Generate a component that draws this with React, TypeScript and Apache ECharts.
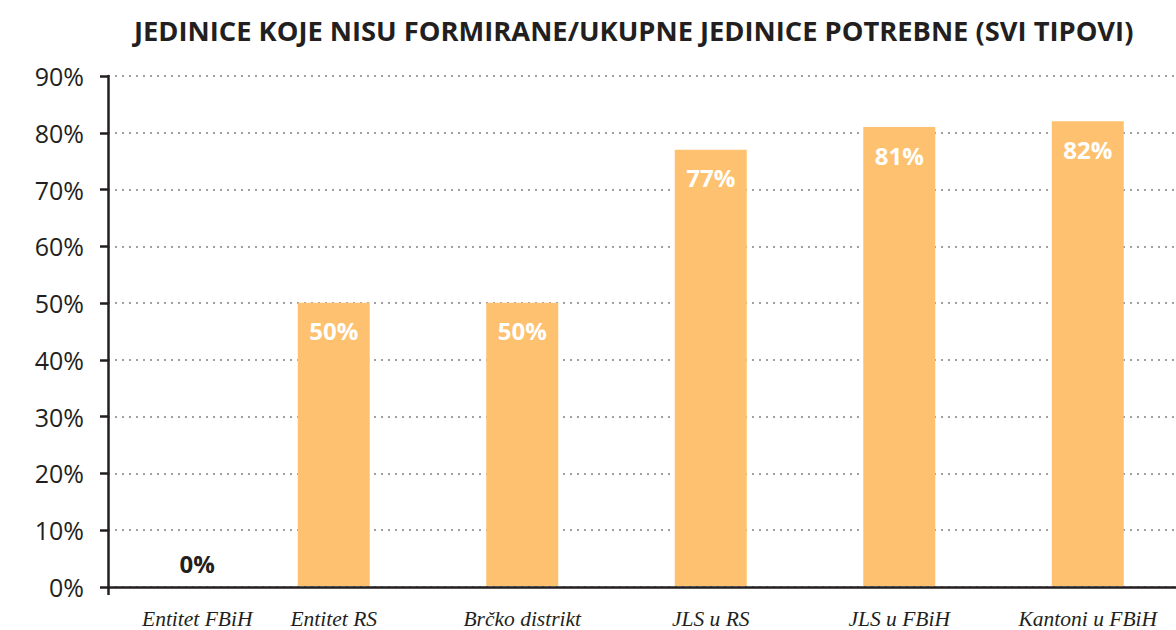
import React, { useEffect, useRef } from "react";
import * as echarts from "echarts";

const TITLE = "JEDINICE KOJE NISU FORMIRANE/UKUPNE JEDINICE POTREBNE (SVI TIPOVI)";
const categories = ["Entitet FBiH", "Entitet RS", "Brčko distrikt", "JLS u RS", "JLS u FBiH", "Kantoni u FBiH"];
const values = [0, 50, 50, 77, 81, 82];
const yTicks = { min: 0, max: 90, interval: 10 };

const DARK = "#231f20";
const BAR = "#FDC16F";

export default function App() {
  const ref = useRef<HTMLDivElement>(null);
  useEffect(() => {
    if (!ref.current) return;
    const chart = echarts.init(ref.current, undefined, { renderer: "svg" });
    chart.setOption({
      animation: false,
      backgroundColor: "#ffffff",
      title: {
        text: TITLE,
        left: 129,
        top: 12,
        textStyle: {
          fontFamily: "Open Sans",
          fontWeight: "bold",
          fontSize: 27.3,
          color: DARK,
        },
      },
      grid: [
        // frame grid: axis lines, ticks, y labels, gridlines
        { left: 108, width: 1068, top: 76, bottom: 43, containLabel: false },
        // bar grid
        { left: 51, width: 1131, top: 76, bottom: 43, containLabel: false },
      ],
      xAxis: [
        {
          type: "value",
          gridIndex: 0,
          min: 0,
          max: 1,
          axisLine: { show: true, onZero: false, lineStyle: { color: DARK, width: 2.5 } },
          axisTick: { show: true, length: 8, customValues: [0], lineStyle: { color: DARK, width: 2.5 } },
          axisLabel: { show: false },
          splitLine: { show: false },
        },
        {
          type: "category",
          gridIndex: 1,
          data: categories.map((c, i) =>
            i === 0 ? { value: c, textStyle: { padding: [0, 0, 0, 104] } } : c
          ),
          axisLine: { show: false },
          axisTick: { show: false },
          axisLabel: {
            interval: 0,
            margin: 22,
            fontFamily: "Liberation Serif",
            fontStyle: "italic",
            fontSize: 21.5,
            color: DARK,
          },
        },
      ],
      yAxis: [
        {
          type: "value",
          gridIndex: 0,
          min: yTicks.min,
          max: yTicks.max,
          interval: yTicks.interval,
          axisLine: { show: true, lineStyle: { color: DARK, width: 2.5 } },
          axisTick: { show: true, length: 8, lineStyle: { color: DARK, width: 2.5 } },
          axisLabel: {
            formatter: "{value}%",
            margin: 24,
            fontFamily: "Open Sans",
            fontSize: 25,
            color: DARK,
          },
          splitLine: {
            show: true,
            lineStyle: { color: "#a0a0a0", width: 2, type: [2, 5] },
          },
        },
        {
          type: "value",
          gridIndex: 1,
          min: yTicks.min,
          max: yTicks.max,
          interval: yTicks.interval,
          show: false,
        },
      ],
      series: [
        {
          type: "bar",
          xAxisIndex: 1,
          yAxisIndex: 1,
          barWidth: 72,
          z: 3,
          itemStyle: { color: BAR },
          data: values.map((v, i) =>
            i === 0
              ? { value: v, label: { position: "top", distance: 11, offset: [52, 0], color: DARK } }
              : { value: v }
          ),
          label: {
            show: true,
            position: "insideTop",
            distance: 16,
            formatter: "{c}%",
            fontFamily: "Open Sans",
            fontWeight: "bold",
            fontSize: 24,
            color: "#ffffff",
          },
        },
      ],
    });
    return () => chart.dispose();
  }, []);
  return (
    <div
      ref={ref}
      style={{ position: "fixed", left: 0, top: 0, width: 1190, height: 630, background: "#fff" }}
    />
  );
}
